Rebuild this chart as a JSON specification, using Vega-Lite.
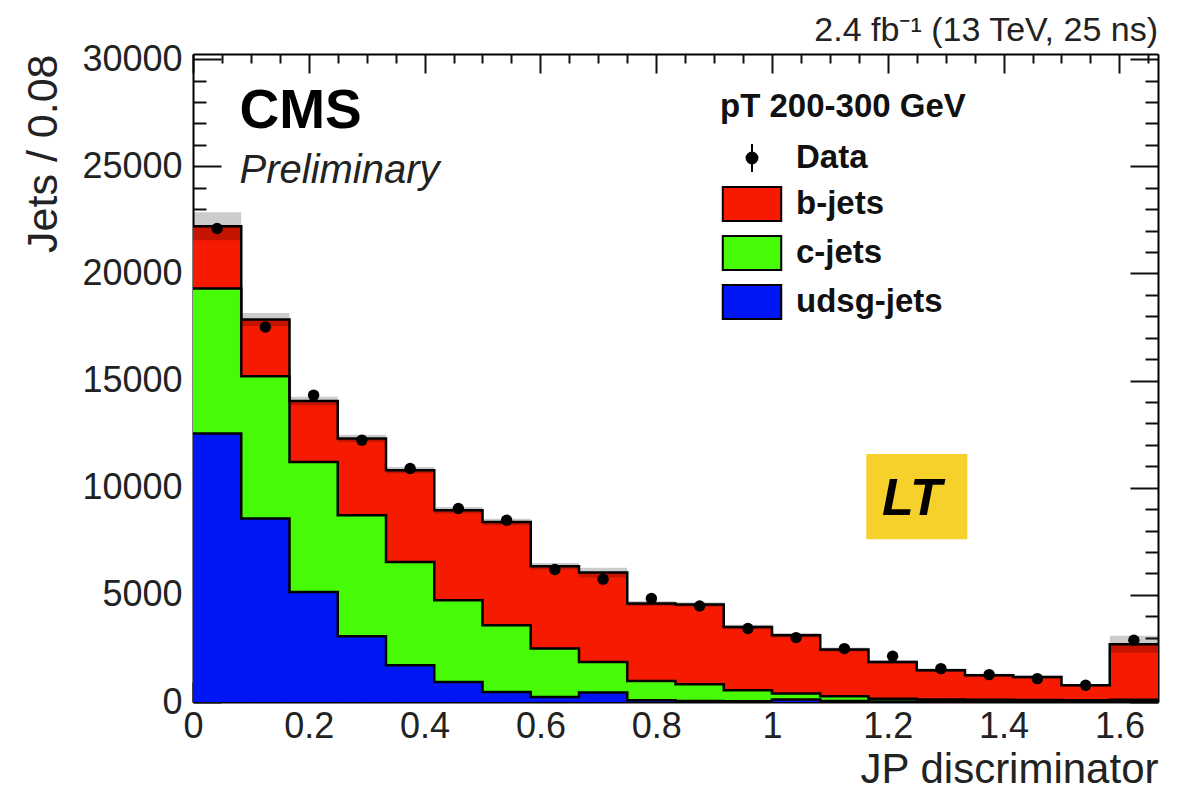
{
  "$schema": "https://vega.github.io/schema/vega-lite/v6.json",
  "width": 965,
  "height": 648,
  "autosize": {"type": "none"},
  "padding": {"left": 193, "top": 54, "right": 29, "bottom": 89},
  "background": "white",
  "config": {
    "view": {"stroke": null},
    "font": "Liberation Sans",
    "axis": {
      "grid": false, "zindex": 1, "domainColor": "#000", "domainWidth": 2,
      "tickColor": "#111", "tickWidth": 2, "labelFont": "Liberation Sans",
      "labelFontSize": 36, "labelColor": "#222", "titleFont": "Liberation Sans",
      "titleFontWeight": "normal", "titleColor": "#222", "labelOverlap": false, "labelFlush": false
    }
  },
  "title": {"text": "2.4 fb⁻¹ (13 TeV, 25 ns)", "anchor": "end", "frame": "group", "fontSize": 34, "fontWeight": "normal", "font": "Liberation Sans", "color": "#222", "baseline": "alphabetic", "offset": 10, "dy": 44},
  "datasets": {
    "steps": [
      {"x": 0, "udsg": 12530, "cjet": 19300, "total": 22200, "ulo": 21550, "uhi": 22850},
      {"x": 0.08333, "udsg": 8560, "cjet": 15200, "total": 17850, "ulo": 17550, "uhi": 18150},
      {"x": 0.16667, "udsg": 5135, "cjet": 11200, "total": 14050, "ulo": 13850, "uhi": 14250},
      {"x": 0.25, "udsg": 3067, "cjet": 8715, "total": 12300, "ulo": 12130, "uhi": 12470},
      {"x": 0.33333, "udsg": 1713, "cjet": 6536, "total": 10820, "ulo": 10670, "uhi": 10970},
      {"x": 0.41667, "udsg": 934, "cjet": 4748, "total": 8950, "ulo": 8800, "uhi": 9100},
      {"x": 0.5, "udsg": 467, "cjet": 3581, "total": 8403, "ulo": 8250, "uhi": 8550},
      {"x": 0.58333, "udsg": 233, "cjet": 2493, "total": 6335, "ulo": 6185, "uhi": 6485},
      {"x": 0.66667, "udsg": 439, "cjet": 1867, "total": 6041, "ulo": 5810, "uhi": 6270},
      {"x": 0.75, "udsg": 80, "cjet": 980, "total": 4594, "ulo": 4480, "uhi": 4710},
      {"x": 0.83333, "udsg": 50, "cjet": 826, "total": 4550, "ulo": 4440, "uhi": 4660},
      {"x": 0.91667, "udsg": 30, "cjet": 546, "total": 3501, "ulo": 3400, "uhi": 3600},
      {"x": 1.0, "udsg": 120, "cjet": 400, "total": 3114, "ulo": 3010, "uhi": 3220},
      {"x": 1.08333, "udsg": 50, "cjet": 266, "total": 2446, "ulo": 2350, "uhi": 2540},
      {"x": 1.16667, "udsg": 20, "cjet": 150, "total": 1867, "ulo": 1780, "uhi": 1950},
      {"x": 1.25, "udsg": 20, "cjet": 120, "total": 1480, "ulo": 1400, "uhi": 1560},
      {"x": 1.33333, "udsg": 15, "cjet": 100, "total": 1246, "ulo": 1170, "uhi": 1320},
      {"x": 1.41667, "udsg": 15, "cjet": 90, "total": 1167, "ulo": 1090, "uhi": 1240},
      {"x": 1.5, "udsg": 10, "cjet": 80, "total": 780, "ulo": 720, "uhi": 840},
      {"x": 1.58333, "udsg": 10, "cjet": 100, "total": 2694, "ulo": 2300, "uhi": 3090},
      {"x": 1.66667, "udsg": 10, "cjet": 100, "total": 2694, "ulo": 2300, "uhi": 3090}
    ],
    "points": [
      {"mid": 0.04167, "data": 22100, "dlo": 21900, "dhi": 22300},
      {"mid": 0.125, "data": 17500, "dlo": 17320, "dhi": 17680},
      {"mid": 0.20833, "data": 14320, "dlo": 14150, "dhi": 14490},
      {"mid": 0.29167, "data": 12220, "dlo": 12060, "dhi": 12380},
      {"mid": 0.375, "data": 10895, "dlo": 10750, "dhi": 11040},
      {"mid": 0.45833, "data": 9030, "dlo": 8900, "dhi": 9160},
      {"mid": 0.54167, "data": 8483, "dlo": 8360, "dhi": 8610},
      {"mid": 0.625, "data": 6181, "dlo": 6070, "dhi": 6290},
      {"mid": 0.70833, "data": 5728, "dlo": 5620, "dhi": 5830},
      {"mid": 0.79167, "data": 4827, "dlo": 4730, "dhi": 4920},
      {"mid": 0.875, "data": 4482, "dlo": 4390, "dhi": 4570},
      {"mid": 0.95833, "data": 3427, "dlo": 3350, "dhi": 3510},
      {"mid": 1.04167, "data": 3006, "dlo": 2930, "dhi": 3080},
      {"mid": 1.125, "data": 2493, "dlo": 2420, "dhi": 2560},
      {"mid": 1.20833, "data": 2133, "dlo": 2070, "dhi": 2200},
      {"mid": 1.29167, "data": 1558, "dlo": 1500, "dhi": 1620},
      {"mid": 1.375, "data": 1278, "dlo": 1220, "dhi": 1330},
      {"mid": 1.45833, "data": 1090, "dlo": 1040, "dhi": 1140},
      {"mid": 1.54167, "data": 780, "dlo": 730, "dhi": 830},
      {"mid": 1.625, "data": 2880, "dlo": 2810, "dhi": 2950}
    ]
  },
  "resolve": {"axis": {"x": "independent", "y": "independent"}},
  "layer": [
    {
      "data": {"name": "steps"},
      "mark": {"type": "area", "interpolate": "step-after", "opacity": 1},
      "encoding": {
        "x": {"field": "x", "type": "quantitative", "scale": {"domain": [0, 1.66667], "nice": false, "zero": false},
          "axis": {"orient": "bottom", "values": [0, 0.2, 0.4, 0.6, 0.8, 1, 1.2, 1.4, 1.6], "format": "~g", "tickSize": -20, "labelPadding": 27, "title": "JP discriminator", "titleAnchor": "end", "titleFontSize": 42, "titlePadding": 5}},
        "y": {"field": "total", "type": "quantitative", "stack": null, "scale": {"domain": [0, 30240], "nice": false},
          "axis": {"orient": "left", "values": [0, 5000, 10000, 15000, 20000, 25000, 30000], "format": "d", "tickSize": -28, "labelPadding": 39, "title": "Jets / 0.08", "titleAnchor": "end", "titleFontSize": 43, "titlePadding": 16}},
        "color": {"datum": "b-jets",
          "scale": {"domain": ["Data", "b-jets", "c-jets", "udsg-jets"], "range": ["#000000", "#F61A00", "#47FA05", "#0016F5"]},
          "legend": {"orient": "none", "legendX": 527, "legendY": 37, "title": "pT 200-300 GeV", "titleFont": "Liberation Sans", "titleFontSize": 33, "titleFontWeight": "bold", "titleColor": "#111", "titlePadding": 16, "labelFont": "Liberation Sans", "labelFontSize": 33, "labelFontWeight": "bold", "labelColor": "#111", "labelOffset": 26, "rowPadding": 7, "symbolStrokeColor": "#000", "symbolStrokeWidth": 2, "symbolSize": 1156, "symbolOpacity": 1, "padding": 0, "titleLimit": 400, "labelLimit": 400,
            "encode": {
              "symbols": {"update": {"shape": {"signal": "datum.value === 'Data' ? 'M0,-0.82V0.82M-0.32,0A0.32,0.32 0 1,1 0.32,0A0.32,0.32 0 1,1 -0.32,0Z' : 'M-1.72,-1H1.72V1H-1.72Z'"}}},
              "title": {"update": {"dx": {"value": -14}}}
            }}}
      }
    },
    {
      "data": {"name": "steps"},
      "mark": {"type": "area", "interpolate": "step-after", "opacity": 1},
      "encoding": {
        "x": {"field": "x", "type": "quantitative", "axis": {"orient": "top", "values": [0, 0.2, 0.4, 0.6, 0.8, 1, 1.2, 1.4, 1.6], "labels": false, "tickSize": -19, "title": null}},
        "y": {"field": "cjet", "type": "quantitative", "stack": null, "axis": {"orient": "right", "values": [0, 5000, 10000, 15000, 20000, 25000, 30000], "labels": false, "tickSize": -28, "title": null}},
        "color": {"datum": "c-jets"}
      }
    },
    {
      "data": {"name": "steps"},
      "mark": {"type": "area", "interpolate": "step-after", "opacity": 1},
      "encoding": {
        "x": {"field": "x", "type": "quantitative", "axis": {"orient": "bottom", "values": [0.05, 0.1, 0.15, 0.25, 0.3, 0.35, 0.45, 0.5, 0.55, 0.65, 0.7, 0.75, 0.85, 0.9, 0.95, 1.05, 1.1, 1.15, 1.25, 1.3, 1.35, 1.45, 1.5, 1.55, 1.65], "labels": false, "domain": false, "tickSize": -10, "title": null}},
        "y": {"field": "udsg", "type": "quantitative", "stack": null, "axis": {"orient": "left", "values": [1000, 2000, 3000, 4000, 6000, 7000, 8000, 9000, 11000, 12000, 13000, 14000, 16000, 17000, 18000, 19000, 21000, 22000, 23000, 24000, 26000, 27000, 28000, 29000], "labels": false, "domain": false, "tickSize": -13, "title": null}},
        "color": {"datum": "udsg-jets"}
      }
    },
    {
      "data": {"name": "steps"},
      "mark": {"type": "area", "interpolate": "step-after", "color": "#000", "opacity": 0.2},
      "encoding": {
        "x": {"field": "x", "type": "quantitative", "axis": {"orient": "top", "values": [0.05, 0.1, 0.15, 0.25, 0.3, 0.35, 0.45, 0.5, 0.55, 0.65, 0.7, 0.75, 0.85, 0.9, 0.95, 1.05, 1.1, 1.15, 1.25, 1.3, 1.35, 1.45, 1.5, 1.55, 1.65], "labels": false, "domain": false, "tickSize": -9, "title": null}},
        "y": {"field": "ulo", "type": "quantitative", "axis": {"orient": "right", "values": [1000, 2000, 3000, 4000, 6000, 7000, 8000, 9000, 11000, 12000, 13000, 14000, 16000, 17000, 18000, 19000, 21000, 22000, 23000, 24000, 26000, 27000, 28000, 29000], "labels": false, "domain": false, "tickSize": -13, "title": null}},
        "y2": {"field": "uhi"}
      }
    },
    {
      "data": {"name": "steps"},
      "mark": {"type": "line", "interpolate": "step-after", "color": "#000", "strokeWidth": 2.5},
      "encoding": {
        "x": {"field": "x", "type": "quantitative", "axis": null},
        "y": {"field": "total", "type": "quantitative", "axis": null}
      }
    },
    {
      "data": {"name": "steps"},
      "mark": {"type": "line", "interpolate": "step-after", "color": "#000", "strokeWidth": 2.5},
      "encoding": {
        "x": {"field": "x", "type": "quantitative", "axis": null},
        "y": {"field": "cjet", "type": "quantitative", "axis": null}
      }
    },
    {
      "data": {"name": "steps"},
      "mark": {"type": "line", "interpolate": "step-after", "color": "#000", "strokeWidth": 2.5},
      "encoding": {
        "x": {"field": "x", "type": "quantitative", "axis": null},
        "y": {"field": "udsg", "type": "quantitative", "axis": null}
      }
    },
    {
      "data": {"name": "points"},
      "mark": {"type": "rule", "color": "#000", "strokeWidth": 2},
      "encoding": {
        "x": {"field": "mid", "type": "quantitative", "axis": null},
        "y": {"field": "dlo", "type": "quantitative", "axis": null},
        "y2": {"field": "dhi"}
      }
    },
    {
      "data": {"name": "points"},
      "mark": {"type": "point", "filled": true, "opacity": 1, "size": 130},
      "encoding": {
        "x": {"field": "mid", "type": "quantitative", "axis": null},
        "y": {"field": "data", "type": "quantitative", "axis": null},
        "color": {"datum": "Data"}
      }
    },
    {
      "data": {"values": [{"t": "CMS"}]},
      "mark": {"type": "text", "align": "left", "baseline": "alphabetic", "font": "Liberation Sans", "fontSize": 55, "fontWeight": "bold", "color": "#000"},
      "encoding": {
        "x": {"datum": 0.0803, "type": "quantitative", "axis": null},
        "y": {"datum": 26773, "type": "quantitative", "axis": null},
        "text": {"field": "t"}
      }
    },
    {
      "data": {"values": [{"t": "Preliminary"}]},
      "mark": {"type": "text", "align": "left", "baseline": "alphabetic", "font": "Liberation Sans", "fontSize": 40, "fontStyle": "italic", "color": "#222"},
      "encoding": {
        "x": {"datum": 0.0803, "type": "quantitative", "axis": null},
        "y": {"datum": 24234, "type": "quantitative", "axis": null},
        "text": {"field": "t"}
      }
    },
    {
      "data": {"values": [{"t": "LT"}]},
      "mark": {"type": "rect", "color": "#F6D02B"},
      "encoding": {
        "x": {"datum": 1.1629, "type": "quantitative", "axis": null},
        "x2": {"datum": 1.3374},
        "y": {"datum": 11574, "type": "quantitative", "axis": null},
        "y2": {"datum": 7593}
      }
    },
    {
      "data": {"values": [{"t": "LT"}]},
      "mark": {"type": "text", "align": "center", "baseline": "alphabetic", "font": "Liberation Sans", "fontSize": 52, "fontWeight": "bold", "fontStyle": "italic", "color": "#000"},
      "encoding": {
        "x": {"datum": 1.2415, "type": "quantitative", "axis": null},
        "y": {"datum": 8727, "type": "quantitative", "axis": null},
        "text": {"field": "t"}
      }
    }
  ]
}
